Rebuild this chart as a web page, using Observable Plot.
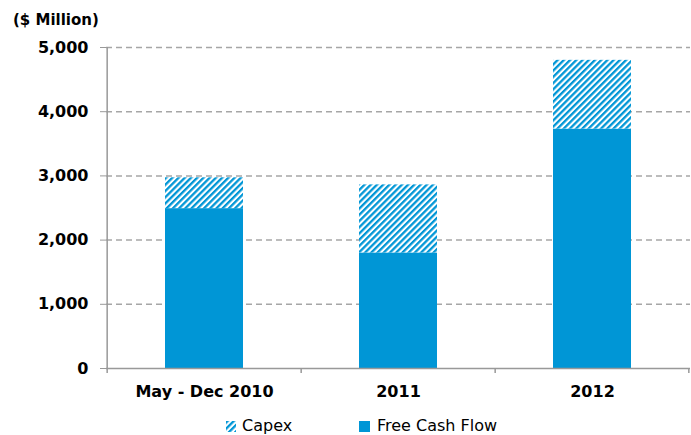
<!DOCTYPE html>
<html>
<head>
<meta charset="utf-8">
<script src="https://cdn.jsdelivr.net/npm/d3@7"></script>
<script src="https://cdn.jsdelivr.net/npm/@observablehq/plot@0.6"></script>
<style>
  body { margin: 0; background: #fff; font-family: "DejaVu Sans", sans-serif; }
  #wrap { position: relative; width: 691px; height: 435px; overflow: hidden; }
  #title { position: absolute; left: 13px; top: 13px; font: bold 15px/15px "DejaVu Sans", sans-serif; color: #000; white-space: nowrap; }
  .lg { position: absolute; font: 16px/16px "DejaVu Sans", sans-serif; color: #000; white-space: nowrap; }
  .sw { position: absolute; width: 10px; height: 11px; }
</style>
</head>
<body>
<div id="wrap">
  <div id="chart"></div>
  <div id="title">($ Million)</div>
  <svg class="sw" style="left:226px; top:421px" width="10" height="11"><rect width="10" height="11" fill="url(#hatch)"></rect></svg>
  <div class="lg" style="left:242px; top:418px">Capex</div>
  <div class="sw" style="left:359px; top:421px; width:11px; background:#0096D6"></div>
  <div class="lg" style="left:377px; top:418px">Free Cash Flow</div>
</div>
<script>
const categories = ["May - Dec 2010", "2011", "2012"];
const freeCashFlow = [2490, 1800, 3730];
const capex = [480, 1060, 1070];
const yTicks = [0, 1000, 2000, 3000, 4000, 5000];
const seriesNames = ["Free Cash Flow", "Capex"];

const BLUE = "#0096D6";
const rows = [];
categories.forEach((c, i) => {
  rows.push({cat: c, series: seriesNames[0], value: freeCashFlow[i]});
  rows.push({cat: c, series: seriesNames[1], value: capex[i]});
});

const W = 691, H = 405, mt = 47, mb = 37, ml = 106, mr = 1;
const step = (W - ml - mr) / categories.length;
const frameH = H - mt - mb;

const plot = Plot.plot({
  width: W, height: H,
  marginTop: mt, marginBottom: mb, marginLeft: ml, marginRight: mr,
  style: {fontFamily: "DejaVu Sans, sans-serif", color: "#000", background: "#fff"},
  x: {domain: categories, paddingInner: 0.6, paddingOuter: 0.3, label: null},
  y: {domain: [0, 5000], label: null},
  color: {type: "identity"},
  marks: [
    Plot.gridY(yTicks.filter(d => d > 0), {stroke: "#a6a6a6", strokeOpacity: 1, strokeWidth: 1.5, strokeDasharray: "6,4"}),
    Plot.barY(rows, Plot.stackY({
      x: "cat", y: "value",
      order: seriesNames,
      z: "series",
      fill: d => d.series === "Capex" ? "url(#hatch)" : BLUE
    })),
    Plot.ruleY([0], {stroke: "#999", strokeWidth: 1.5}),
    Plot.ruleX([categories[0]], {dx: -step / 2, stroke: "#999", strokeWidth: 1.5, insetBottom: -5}),
    Plot.ruleX(categories.slice(1), {dx: -step / 2, stroke: "#999", strokeWidth: 1.5, insetTop: frameH, insetBottom: -5}),
    Plot.ruleX([categories[categories.length - 1]], {dx: step / 2 - 1, stroke: "#999", strokeWidth: 1.5, insetTop: frameH, insetBottom: -5}),
    Plot.axisY({ticks: yTicks, tickFormat: d3.format(","), tickSize: 6, tickPadding: 12, stroke: "#999", fill: "#000", fontSize: 16, fontWeight: "bold"}),
    Plot.axisX({tickSize: 0, tickPadding: 17, fill: "#000", fontSize: 16, fontWeight: "bold"})
  ]
});

// hatch pattern for Capex
const svg = d3.select(plot);
const defs = svg.insert("defs", ":first-child");
const pat = defs.append("pattern")
  .attr("id", "hatch")
  .attr("patternUnits", "userSpaceOnUse")
  .attr("width", 4.4).attr("height", 4.4)
  .attr("patternTransform", "rotate(45)");
pat.append("rect").attr("width", 4.4).attr("height", 4.4).attr("fill", "#fff");
pat.append("rect").attr("width", 2.3).attr("height", 4.4).attr("fill", BLUE);

document.getElementById("chart").appendChild(plot);
</script>
</body>
</html>
